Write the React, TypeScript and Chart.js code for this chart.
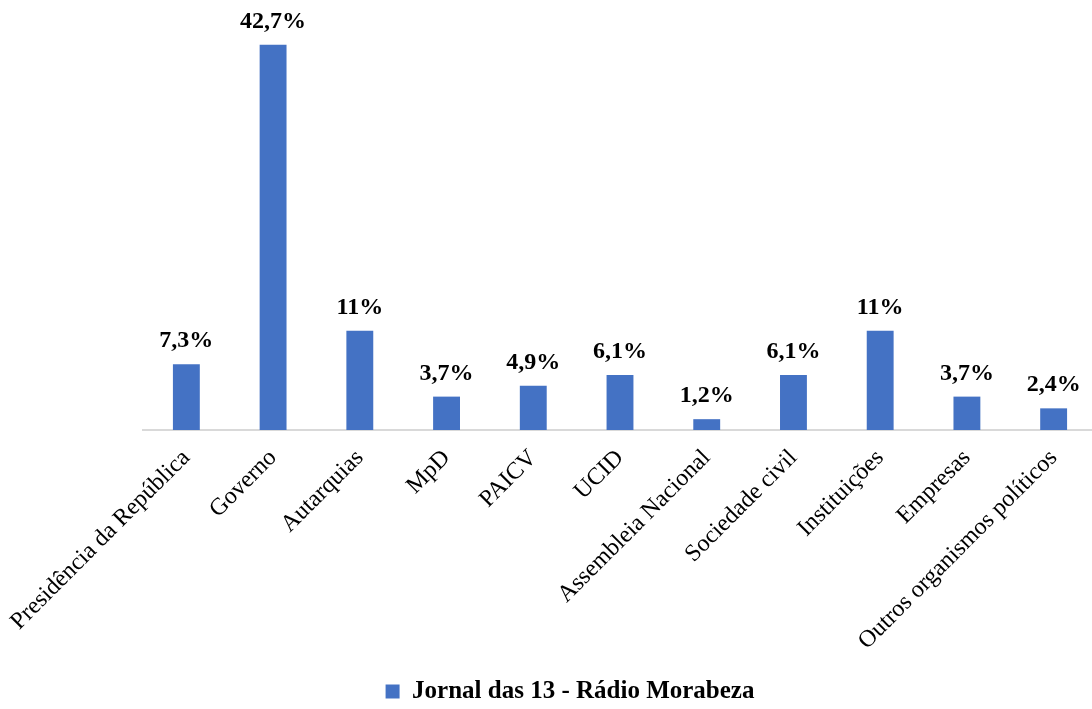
import React, { useEffect, useRef } from "react";
import { Chart, registerables } from "chart.js";

Chart.register(...registerables);

const categories = [
  "Presidência da República",
  "Governo",
  "Autarquias",
  "MpD",
  "PAICV",
  "UCID",
  "Assembleia Nacional",
  "Sociedade civil",
  "Instituições",
  "Empresas",
  "Outros organismos políticos",
];

const values = [7.3, 42.7, 11, 3.7, 4.9, 6.1, 1.2, 6.1, 11, 3.7, 2.4];

const valueLabels = ["7,3%", "42,7%", "11%", "3,7%", "4,9%", "6,1%", "1,2%", "6,1%", "11%", "3,7%", "2,4%"];

const seriesName = "Jornal das 13 - Rádio Morabeza";

const FONT = "'Times New Roman', 'Liberation Serif', serif";

const dataLabelPlugin = {
  id: "dataLabels",
  afterDatasetsDraw(chart: any) {
    const ctx = chart.ctx;
    const meta = chart.getDatasetMeta(0);
    ctx.save();
    ctx.font = `bold 24px ${FONT}`;
    ctx.fillStyle = "#000";
    ctx.textAlign = "center";
    ctx.textBaseline = "alphabetic";
    meta.data.forEach((bar: any, i: number) => {
      ctx.fillText(valueLabels[i], bar.x, bar.y - 17);
    });
    ctx.restore();
  },
};

export default function App() {
  const ref = useRef<HTMLCanvasElement | null>(null);

  useEffect(() => {
    if (!ref.current) return;
    const chart = new Chart(ref.current, {
      type: "bar",
      data: {
        labels: categories,
        datasets: [
          {
            label: seriesName,
            data: values,
            backgroundColor: "#4472C4",
            borderWidth: 0,
            categoryPercentage: 1,
            barPercentage: 0.31,
          },
        ],
      },
      options: {
        responsive: false,
        animation: false,
        devicePixelRatio: 1,
        layout: { padding: { top: 24, left: 0, right: 0, bottom: 0 } },
        plugins: {
          legend: {
            position: "bottom",
            labels: {
              font: { family: FONT, size: 25, weight: "bold" },
              color: "#000",
              boxWidth: 14,
              boxHeight: 14,
              padding: 10,
            },
          },
          tooltip: { enabled: false },
        },
        scales: {
          x: {
            grid: { display: false, drawTicks: false },
            border: { display: true, color: "#d9d9d9", width: 2 },
            ticks: {
              font: { family: FONT, size: 24 },
              color: "#000",
              maxRotation: 45,
              minRotation: 45,
              autoSkip: false,
              padding: 14,
            },
            afterFit: (s: any) => {
              s.height = 239;
              s.paddingLeft = 0;
              s.paddingRight = 0;
            },
          },
          y: {
            position: "left",
            min: 0,
            max: 45,
            grid: { display: false },
            border: { display: false },
            ticks: { display: false },
            afterFit: (s: any) => {
              s.width = 143;
            },
          },
          y2: {
            type: "linear",
            position: "right",
            grid: { display: false },
            border: { display: false },
            ticks: { display: false },
            afterFit: (s: any) => {
              s.width = 43;
            },
          },
        },
      },
      plugins: [dataLabelPlugin],
    } as any);
    return () => chart.destroy();
  }, []);

  return (
    <div
      style={{
        position: "fixed",
        left: 0,
        top: 0,
        width: 1092,
        height: 709,
        overflow: "hidden",
        background: "#fff",
      }}
    >
      <canvas ref={ref} width={1140} height={714} style={{ width: 1140, height: 714, display: "block" }} />
    </div>
  );
}
